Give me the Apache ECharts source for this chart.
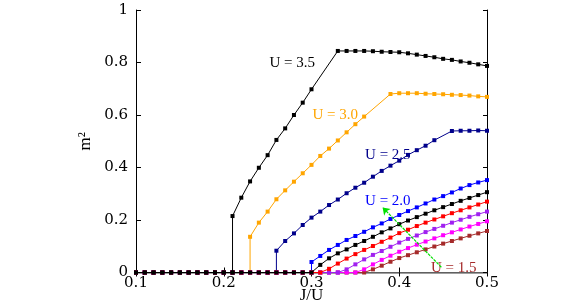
<!DOCTYPE html>
<html><head><meta charset="utf-8">
<script src="https://cdn.jsdelivr.net/npm/echarts@6/dist/echarts.min.js"></script>
<style>html,body{margin:0;padding:0;background:#fff}#c{width:572px;height:300px}</style>
</head><body><div id="c"></div>
<script>
// ---- data (J/U, m^2) ----
const j35 = [0.10,0.11,0.12,0.13,0.14,0.15,0.16,0.17,0.18,0.19,0.20,0.21,0.21,0.22,0.23,0.24,0.25,0.26,0.27,0.28,0.29,0.30,0.33,0.34,0.35,0.36,0.37,0.38,0.39,0.40,0.41,0.42,0.43,0.44,0.45,0.46,0.47,0.48,0.49,0.50];
const m35 = [0,0,0,0,0,0,0,0,0,0,0,0,0.215,0.285,0.347,0.399,0.447,0.505,0.549,0.600,0.647,0.698,0.844,0.844,0.844,0.844,0.843,0.841,0.840,0.839,0.835,0.830,0.825,0.820,0.814,0.810,0.804,0.799,0.793,0.787];

const j30 = [0.10,0.11,0.12,0.13,0.14,0.15,0.16,0.17,0.18,0.19,0.20,0.21,0.22,0.23,0.23,0.24,0.25,0.26,0.27,0.28,0.29,0.30,0.31,0.32,0.33,0.34,0.35,0.36,0.39,0.40,0.41,0.42,0.43,0.44,0.45,0.46,0.47,0.48,0.49,0.50];
const m30 = [0,0,0,0,0,0,0,0,0,0,0,0,0,0,0.136,0.190,0.232,0.279,0.313,0.346,0.378,0.410,0.444,0.472,0.503,0.534,0.565,0.594,0.680,0.683,0.683,0.683,0.681,0.680,0.679,0.677,0.676,0.674,0.671,0.669];

const j25 = [0.10,0.11,0.12,0.13,0.14,0.15,0.16,0.17,0.18,0.19,0.20,0.21,0.22,0.23,0.24,0.25,0.26,0.26,0.27,0.28,0.29,0.30,0.31,0.32,0.33,0.34,0.35,0.36,0.37,0.38,0.39,0.40,0.41,0.42,0.43,0.44,0.46,0.47,0.48,0.49,0.50];
const m25 = [0,0,0,0,0,0,0,0,0,0,0,0,0,0,0,0,0,0.083,0.120,0.149,0.181,0.209,0.232,0.257,0.278,0.302,0.323,0.342,0.365,0.387,0.407,0.426,0.448,0.466,0.483,0.504,0.539,0.540,0.540,0.541,0.540];

const j20 = [0.10,0.11,0.12,0.13,0.14,0.15,0.16,0.17,0.18,0.19,0.20,0.21,0.22,0.23,0.24,0.25,0.26,0.27,0.28,0.29,0.30,0.30,0.31,0.32,0.33,0.34,0.35,0.36,0.37,0.38,0.39,0.40,0.41,0.42,0.43,0.44,0.45,0.46,0.47,0.48,0.49,0.50];
const m20 = [0,0,0,0,0,0,0,0,0,0,0,0,0,0,0,0,0,0,0,0,0,0.040,0.063,0.086,0.105,0.124,0.139,0.155,0.172,0.187,0.204,0.219,0.234,0.248,0.263,0.278,0.291,0.305,0.320,0.333,0.343,0.352];

const jLow = [0.10,0.11,0.12,0.13,0.14,0.15,0.16,0.17,0.18,0.19,0.20,0.21,0.22,0.23,0.24,0.25,0.26,0.27,0.28,0.29,0.30,0.31,0.32,0.33,0.34,0.35,0.36,0.37,0.38,0.39,0.40,0.41,0.42,0.43,0.44,0.45,0.46,0.47,0.48,0.49,0.50];
const m15 = [0,0,0,0,0,0,0,0,0,0,0,0,0,0,0,0,0,0,0,0,0,0,0,0,0,0,0,0.012,0.026,0.041,0.055,0.066,0.077,0.088,0.099,0.110,0.120,0.130,0.140,0.149,0.158];
const m16 = [0,0,0,0,0,0,0,0,0,0,0,0,0,0,0,0,0,0,0,0,0,0,0,0,0,0,0.012,0.031,0.048,0.064,0.079,0.093,0.106,0.118,0.130,0.142,0.153,0.164,0.175,0.185,0.195];
const m17 = [0,0,0,0,0,0,0,0,0,0,0,0,0,0,0,0,0,0,0,0,0,0,0,0,0.012,0.031,0.050,0.067,0.082,0.098,0.114,0.128,0.141,0.154,0.166,0.178,0.190,0.201,0.212,0.222,0.232];
const m18 = [0,0,0,0,0,0,0,0,0,0,0,0,0,0,0,0,0,0,0,0,0,0,0.014,0.034,0.053,0.070,0.086,0.101,0.117,0.133,0.150,0.163,0.177,0.190,0.202,0.214,0.226,0.237,0.248,0.259,0.270];
const m19 = [0,0,0,0,0,0,0,0,0,0,0,0,0,0,0,0,0,0,0,0,0,0.029,0.054,0.073,0.088,0.105,0.120,0.136,0.153,0.168,0.184,0.198,0.211,0.224,0.237,0.249,0.261,0.273,0.284,0.295,0.306];

const xTicks = ['0.1','0.2','0.3','0.4','0.5'];
const yTicks = ['0','0.2','0.4','0.6','0.8','1'];

// annotations: text, J/U, m^2
const noteText = ['U = 3.5','U = 3.0','U = 2.5','U = 2.0','U = 1.5'];
const noteJ = [0.278, 0.327, 0.387, 0.387, 0.462];
const noteM = [0.798, 0.600, 0.448, 0.272, 0.017];
const arrowFrom = [0.448, 0.020];
const arrowTo = [0.381, 0.248];

const pairs = (xs, ys) => xs.map((x, i) => [x, ys[i]]);
const serif = 'Liberation Serif';

function note(i, color) {
  return {
    silent: true, symbol: 'circle', symbolSize: 1,
    itemStyle: {color: 'rgba(0,0,0,0)'},
    label: {show: true, position: 'inside', formatter: noteText[i], color: color,
            fontFamily: serif, fontSize: 15},
    data: [{coord: [noteJ[i], noteM[i]]}]
  };
}
let zc = 3;
function ser(name, xs, ys, color, extra) {
  zc += 1;
  return Object.assign({
    name: name, type: 'line', data: pairs(xs, ys), z: zc, clip: false,
    symbol: 'rect', symbolSize: 4, showSymbol: true, showAllSymbol: true,
    lineStyle: {color: color, width: 1}, itemStyle: {color: color},
    emphasis: {disabled: true}, animation: false
  }, extra || {});
}

const chart = echarts.init(document.getElementById('c'), null, {renderer: 'canvas'});
const tickStyle = {inside: true, length: 5, lineStyle: {color: '#000', width: 1}};
chart.setOption({
  animation: false,
  grid: {left: 136, right: 85, top: 10, bottom: 27.5, containLabel: false, outerBoundsMode: 'none'},
  xAxis: [{
    type: 'value', min: 0.1, max: 0.5, interval: 0.1, position: 'bottom',
    axisLine: {show: true, lineStyle: {color: '#000', width: 1}},
    axisTick: tickStyle, splitLine: {show: false},
    axisLabel: {formatter: (v, i) => xTicks[i], color: '#000', fontFamily: 'DejaVu Serif', fontSize: 15, margin: 3},
    name: 'J/U', nameLocation: 'middle', nameGap: 15, nameMoveOverlap: false,
    nameTextStyle: {color: '#000', fontFamily: serif, fontSize: 17}
  }, {
    type: 'value', min: 0.1, max: 0.5, interval: 0.1, position: 'top',
    axisLine: {show: true, lineStyle: {color: '#808080', width: 1.5}},
    axisTick: {inside: true, length: 4, lineStyle: {color: '#000', width: 1}},
    axisLabel: {show: false}, splitLine: {show: false}
  }],
  yAxis: [{
    type: 'value', min: 0, max: 1, interval: 0.2, position: 'left',
    axisLine: {show: true, lineStyle: {color: '#000', width: 1}},
    axisTick: tickStyle, splitLine: {show: false},
    axisLabel: {formatter: (v, i) => yTicks[i], color: '#000', fontFamily: 'DejaVu Serif', fontSize: 15, margin: 8},
    name: 'm²', nameLocation: 'middle', nameGap: 42, nameMoveOverlap: false,
    nameTextStyle: {color: '#000', fontFamily: serif, fontSize: 17}
  }, {
    type: 'value', min: 0, max: 1, interval: 0.2, position: 'right',
    axisLine: {show: true, lineStyle: {color: '#000', width: 1}},
    axisTick: {inside: true, length: 4, lineStyle: {color: '#000', width: 1}},
    axisLabel: {show: false}, splitLine: {show: false}
  }],
  series: [
    ser('U=3.0', j30, m30, '#FFA500', {markPoint: note(1, '#FFA500')}),
    ser('U=2.5', j25, m25, '#00008B', {markPoint: note(2, '#00008B')}),
    ser('U=2.0', j20, m20, '#0000FF', {markPoint: note(3, '#0000FF')}),
    ser('U=1.5', jLow, m15, '#A52A2A', {markPoint: note(4, '#A52A2A')}),
    ser('U=1.6', jLow, m16, '#FF00FF'),
    ser('U=1.7', jLow, m17, '#A020F0'),
    ser('U=1.8', jLow, m18, '#FF0000'),
    ser('U=1.9', jLow, m19, '#000000'),
    ser('U=3.5', j35, m35, '#000000', {markPoint: note(0, '#000000')}),
    {
      type: 'lines', coordinateSystem: 'cartesian2d', z: 60, silent: true, animation: false,
      symbol: ['none', 'arrow'], symbolSize: 7,
      lineStyle: {color: '#00E000', width: 1.2, type: [3, 1], opacity: 1},
      data: [{coords: [arrowFrom, arrowTo]}]
    }
  ]
});
</script>
</body></html>
